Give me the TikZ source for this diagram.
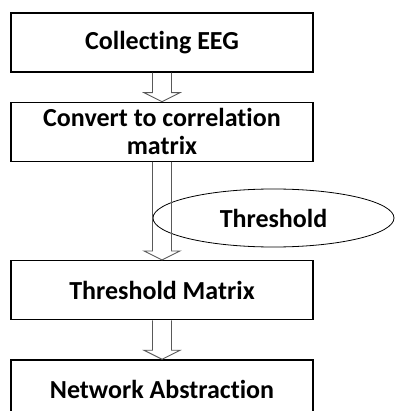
\documentclass[tikz,border=0pt]{standalone}
\usepackage{fontspec}
\setmainfont{Carlito}[Ligatures={NoCommon}]
\usetikzlibrary{positioning, shapes.geometric, calc}

\begin{document}
\begin{tikzpicture}[x=1pt, y=-1pt, node distance=29pt, thick,
	main/.style = {draw, line width=1.3pt, minimum width=302pt, minimum height=59pt, align=center, font=\fontsize{26}{28}\selectfont\bfseries},
	cond/.style = {draw, ellipse, line width=0.8pt, minimum width=241pt, minimum height=58pt, font=\fontsize{26}{28}\selectfont\bfseries},
	hollow/.style = {draw=black!65, line width=0.9pt}]
	\useasboundingbox (0,0) rectangle (395,411);
	\clip (0,0) rectangle (395,411);
	\node[main] (collect) at (162,42.5) {Collecting EEG};
	\node[main] (convert) [below=29pt of collect] {Convert to correlation\\matrix};
	\node[main] (thmat) [below=98pt of convert] {Threshold Matrix};
	\node[main] (network) [below=39pt of thmat] {Network Abstraction};
	\node[cond] (thresh) at (273.5,218) {Threshold};
	% hollow block arrows between the steps
	\foreach \a/\b in {collect/convert, convert/thmat, thmat/network}
		\draw[hollow] ($(\a.south)+(-9.5,0)$) -- ($(\b.north)+(-9.5,-9)$) -- ($(\b.north)+(-18,-9)$) -- (\b.north)
			-- ($(\b.north)+(18,-9)$) -- ($(\b.north)+(9.5,-9)$) -- ($(\a.south)+(9.5,0)$);
\end{tikzpicture}
\end{document}
